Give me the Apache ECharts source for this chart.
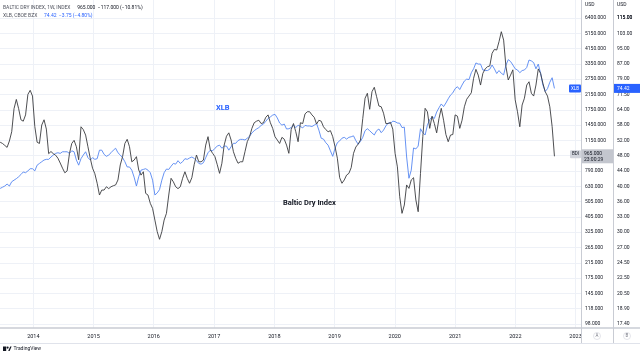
<!DOCTYPE html>
<html>
<head>
<meta charset="utf-8">
<title>Baltic Dry Index vs XLB</title>
<script src="https://cdn.jsdelivr.net/npm/echarts@6/dist/echarts.min.js"></script>
<style>
  html, body { margin: 0; padding: 0; background: #fff; }
  #chart { width: 640px; height: 354px; }
</style>
</head>
<body>
<div id="chart"></div>
<script>
// weekly closes, read every second week, starting 2013-06-14
const START = Date.UTC(2013, 5, 14);
const STEP_DAYS = 14;

const BDI = [
  1170, 1150, 1120, 1090, 1190, 1350, 1850, 2100, 1850, 1590, 1560, 1700, 2250, 2380, 2200,
  1450, 1170, 1150, 1480, 1590, 1400, 1000, 1030, 1000, 980, 940, 880, 820, 770, 790, 1000, 1150, 1200, 1100, 920, 1445, 1390, 1290, 1100, 940, 820,
  760, 667, 568, 608, 608, 636, 620, 636, 645, 652, 698, 857, 960, 1150, 1217, 1100, 895, 916, 960, 800, 746, 781, 581, 568, 507, 473,
  403, 344, 310, 344, 403, 442, 568, 714, 680, 636, 620, 636, 714, 781, 714, 667, 720, 860, 982, 895, 895, 916, 1125, 1262, 1053, 1005,
  960, 860, 764, 877, 1125, 1270, 1330, 1205, 1027, 938, 877, 895, 895, 1027, 1178, 1262, 1414, 1527, 1560, 1580, 1510, 1527, 1644, 1700, 1527, 1414,
  1262, 1205, 1150, 1250, 1220, 1125, 1005, 1390, 1510, 1350, 1178, 1527, 1510, 1723, 1775, 1775, 1700, 1644, 1500, 1580, 1560, 1445, 1390, 1350, 1370, 1262,
  1100, 940, 720, 667, 698, 746, 764, 827, 1005, 1095, 1140, 1205, 1616, 2135, 2285, 1835, 2335, 2480, 2180, 1920, 1900, 1740, 1510, 1510, 1535, 1400,
  1005, 835, 555, 442, 495, 652, 622, 698, 720, 531, 452, 764, 1262, 1860, 1775, 1414, 1670, 1510, 1330, 1616, 1860, 1580, 1300, 1178, 1290, 1300,
  1700, 1670, 1414, 1580, 1900, 2105, 2200, 2300, 2805, 3170, 2930, 2557, 3000, 3190, 3286, 3320, 3950, 4165, 4130, 4630, 5305, 4730, 3286, 2740, 2930, 3150,
  2090, 1775, 1445, 1945, 2135, 2557, 2675, 2285, 2200, 2557, 3190, 3000, 2620, 2335, 2200, 1900, 1450, 965
];

const XLB = [
  40.1, 40.4, 40.7, 41.2, 40.7, 41.8, 42.2, 42.6, 43.1, 43.7, 44.4, 44.2, 44.7, 45.3, 45.3,
  44.7, 46.3, 46.8, 47.3, 47.8, 48.0, 48.0, 48.7, 49.3, 49.8, 50.0, 49.8, 50.3, 50.3, 50.3, 49.8, 50.6, 50.3, 47.8, 46.3, 48.2, 49.3, 50.3, 48.5, 47.8, 48.5,
  48.0, 48.2, 50.8, 50.8, 49.5, 48.9, 49.3, 50.0, 50.8, 51.4, 50.0, 49.3, 48.5, 47.3, 45.8, 45.8, 44.9, 43.0, 40.7, 43.1, 44.9, 45.1, 45.3, 44.9, 44.2, 42.2,
  38.5, 39.0, 39.8, 42.2, 44.2, 45.2, 45.1, 46.0, 46.8, 46.6, 47.6, 46.8, 47.3, 48.2, 48.0, 48.4, 48.7, 48.3, 47.6, 46.8, 46.6, 47.0, 48.5, 50.0, 50.8, 50.6,
  51.4, 52.1, 52.4, 51.4, 52.1, 52.1, 50.8, 51.9, 53.0, 53.0, 53.9, 54.3, 54.3, 54.1, 54.7, 55.4, 56.5, 57.3, 57.9, 58.4, 59.2, 59.7, 60.7, 61.8, 62.4, 63.1,
  63.4, 62.0, 60.1, 59.3, 59.7, 57.9, 58.0, 58.4, 59.3, 58.4, 59.3, 58.8, 58.3, 59.2, 59.0, 59.0, 58.8, 59.3, 59.9, 57.5, 54.7, 54.4, 53.2, 52.4, 50.6, 48.9,
  51.4, 53.2, 53.8, 54.7, 55.0, 54.4, 55.0, 55.2, 55.5, 53.9, 52.7, 53.6, 55.0, 57.3, 58.0, 57.3, 56.5, 55.8, 57.3, 57.9, 56.6, 57.5, 59.0, 60.1, 59.9, 60.8,
  60.6, 60.1, 60.0, 58.4, 58.6, 48.7, 42.7, 44.9, 51.5, 51.2, 52.1, 58.0, 56.6, 55.8, 59.3, 61.4, 62.4, 61.8, 64.3, 66.0, 67.6, 66.5, 68.0, 69.8, 71.4, 72.4,
  74.3, 75.2, 73.9, 76.0, 77.9, 78.8, 78.6, 82.0, 84.0, 87.1, 86.5, 86.5, 83.4, 83.1, 83.1, 83.8, 86.0, 84.0, 81.6, 83.1, 81.7, 80.9, 85.9, 88.9, 87.9, 86.0,
  84.0, 83.4, 82.0, 83.1, 83.4, 84.7, 88.7, 88.2, 87.3, 84.0, 86.5, 81.7, 76.0, 73.0, 74.3, 77.3, 79.5, 74.42
];

const YEARS = [2014, 2015, 2016, 2017, 2018, 2019, 2020, 2021, 2022, 2023];
const BDI_TICKS = [6400, 5150, 4150, 3350, 2750, 2150, 1750, 1450, 1150, 955, 790, 630, 505, 405, 325, 265, 215, 175, 145, 118, 98];
const XLB_TICKS = [115, 103, 95, 87, 79, 71.5, 64, 58, 52, 48, 44, 40, 36, 33, 30, 27, 24.5, 22.5, 20.5, 18.9, 17.4];

// log price scales: ticks evenly spaced like the TradingView axis
const GRID_H = 328;
const TICK0_Y = 18;
const TICK_GAP = 15.3;
const BDI_PX_DECADE = 168.3;
const XLB_PX_DECADE = 372.5;

function logScale(top, pxDecade, count) {
  const t = Math.log10(top);
  const step = TICK_GAP / pxDecade;
  const ticks = [];
  // ascending order, bottom tick first
  for (let k = count - 1; k >= 0; k--) ticks.push(t - k * step);
  return {
    top: t,
    step: step,
    max: t + TICK0_Y / pxDecade,
    min: t - (GRID_H - TICK0_Y) / pxDecade,
    ticks: ticks
  };
}
const bdiScale = logScale(BDI_TICKS[0], BDI_PX_DECADE, BDI_TICKS.length);
const xlbScale = logScale(XLB_TICKS[0], XLB_PX_DECADE, XLB_TICKS.length);

const dateAt = i => START + i * STEP_DAYS * 864e5;
const bdiData = BDI.map((v, i) => [dateAt(i), Math.log10(v)]);
const xlbData = XLB.map((v, i) => [dateAt(i), Math.log10(v)]);
const yearStarts = YEARS.map(y => Date.UTC(y, 0, 1));

const FONT = 'Roboto, "Liberation Sans", sans-serif';
const TEXT = '#131722';
const GRIDC = '#eef1f7';
const BORDER = '#c9ccd4';
const BLUE = '#2962ff';

// both scales share the same gridline rows
function priceAxis(scale, labels, digits, offset) {
  return {
    type: 'value',
    position: 'right',
    offset: offset,
    min: scale.min,
    max: scale.max,
    axisLine: { show: true, lineStyle: { color: BORDER } },
    axisTick: { show: false, customValues: scale.ticks },
    axisLabel: {
      customValues: scale.ticks,
      formatter: v => labels[Math.round((scale.top - v) / scale.step)].toFixed(digits),
      fontSize: 5, color: TEXT, fontFamily: FONT, margin: 4
    },
    splitLine: { show: true, lineStyle: { color: GRIDC, width: 1 } }
  };
}

const chart = echarts.init(document.getElementById('chart'));

chart.setOption({
  animation: false,
  backgroundColor: '#ffffff',
  grid: { left: 0, right: 59, top: 0, height: GRID_H },
  xAxis: {
    type: 'value',
    min: Date.UTC(2013, 5, 13),
    max: Date.UTC(2023, 1, 3),
    axisLine: { show: true, lineStyle: { color: BORDER, width: 1.5 } },
    axisTick: { show: false, customValues: yearStarts },
    axisLabel: {
      customValues: yearStarts,
      formatter: v => String(new Date(v).getUTCFullYear()),
      fontSize: 5.5, color: TEXT, fontFamily: FONT, margin: 6
    },
    splitLine: { show: true, lineStyle: { color: GRIDC, width: 1 } }
  },
  yAxis: [
    priceAxis(bdiScale, BDI_TICKS, 3, 0),
    priceAxis(xlbScale, XLB_TICKS, 2, 32)
  ],
  series: [
    {
      name: 'XLB',
      type: 'line',
      yAxisIndex: 1,
      data: xlbData,
      showSymbol: false,
      lineStyle: { color: '#5687f2', width: 0.9 },
      z: 2
    },
    {
      name: 'Baltic Dry Index',
      type: 'line',
      yAxisIndex: 0,
      data: bdiData,
      showSymbol: false,
      lineStyle: { color: '#3a3b3e', width: 0.9 },
      z: 3
    }
  ]
});

// price tags, legend and frame
const yX = chart.convertToPixel({ yAxisIndex: 1 }, Math.log10(XLB[XLB.length - 1]));
const yB = chart.convertToPixel({ yAxisIndex: 0 }, Math.log10(BDI[BDI.length - 1]));
// the top XLB label gets dropped by the axis layout, so it is put back by hand
const yTop = chart.convertToPixel({ yAxisIndex: 1 }, xlbScale.top);

const overlay = [
  {
    type: 'text', left: 3, top: 2,
    style: {
      text: '{g|BALTIC DRY INDEX, 1W, INDEX}  {k|965.000  \u2212117.000 (\u221210.81%)}',
      rich: {
        g: { fontSize: 5, fill: '#50535e', fontFamily: FONT },
        k: { fontSize: 5, fill: TEXT, fontFamily: FONT }
      }
    }
  },
  {
    type: 'text', left: 3, top: 10,
    style: {
      text: '{g|XLB, CBOE BZX}  {b|74.42  \u22123.75 (\u22124.80%)}',
      rich: {
        g: { fontSize: 5, fill: '#50535e', fontFamily: FONT },
        b: { fontSize: 5, fill: BLUE, fontFamily: FONT }
      }
    }
  },
  { type: 'text', left: 585, top: 2, style: { text: 'USD', fontSize: 5, fill: TEXT, fontFamily: FONT } },
  { type: 'text', left: 617, top: 2, style: { text: 'USD', fontSize: 5, fill: TEXT, fontFamily: FONT } },
  { type: 'text', x: 617, y: yTop, style: { text: XLB_TICKS[0].toFixed(2), fontSize: 5, fill: TEXT, verticalAlign: 'middle', fontFamily: FONT } },

  { type: 'text', left: 216, top: 104, style: { text: 'XLB', fontSize: 7.5, fontWeight: 'bold', fill: BLUE, fontFamily: FONT } },
  { type: 'text', left: 283, top: 199, style: { text: 'Baltic Dry Index', fontSize: 7.5, fontWeight: 'bold', fill: TEXT, fontFamily: FONT } },

  // tags at the last values
  { type: 'rect', shape: { x: 569, y: yX - 4, width: 12, height: 8, r: 1 }, style: { fill: BLUE } },
  { type: 'text', x: 575, y: yX, style: { text: 'XLB', fontSize: 4.5, fill: '#fff', align: 'center', verticalAlign: 'middle', fontFamily: FONT } },
  { type: 'rect', shape: { x: 614, y: yX - 4.5, width: 26, height: 9 }, style: { fill: BLUE } },
  { type: 'text', x: 617, y: yX, style: { text: '74.42', fontSize: 5, fill: '#fff', verticalAlign: 'middle', fontFamily: FONT } },

  { type: 'rect', shape: { x: 570, y: yB - 6, width: 11, height: 8, r: 1 }, style: { fill: '#d1d4dc' } },
  { type: 'text', x: 575.5, y: yB - 2, style: { text: 'BDI', fontSize: 4.5, fill: TEXT, align: 'center', verticalAlign: 'middle', fontFamily: FONT } },
  { type: 'rect', shape: { x: 582, y: yB - 7, width: 31, height: 14 }, style: { fill: '#c3c6ce' } },
  { type: 'text', x: 584, y: yB - 3, style: { text: '965.000', fontSize: 5, fill: TEXT, verticalAlign: 'middle', fontFamily: FONT } },
  { type: 'text', x: 584, y: yB + 3, style: { text: '23:00:29', fontSize: 5, fill: TEXT, verticalAlign: 'middle', fontFamily: FONT } },

  // frame of the axis area
  { type: 'line', shape: { x1: 581, y1: GRID_H, x2: 640, y2: GRID_H }, style: { stroke: BORDER, lineWidth: 1.5 } },
  { type: 'line', shape: { x1: 581.5, y1: GRID_H, x2: 581.5, y2: 343 }, style: { stroke: BORDER, lineWidth: 1 } },
  { type: 'line', shape: { x1: 613.5, y1: GRID_H, x2: 613.5, y2: 343 }, style: { stroke: BORDER, lineWidth: 1 } },
  { type: 'line', shape: { x1: 0, y1: 343.5, x2: 640, y2: 343.5 }, style: { stroke: '#e0e3eb', lineWidth: 1 } },
  { type: 'circle', shape: { cx: 597, cy: 336, r: 3.5 }, style: { fill: '#fff', stroke: '#d1d4dc', lineWidth: 0.6 } },
  { type: 'text', x: 597, y: 336, style: { text: 'A', fontSize: 4.5, fill: '#787b86', align: 'center', verticalAlign: 'middle', fontFamily: FONT } },
  { type: 'circle', shape: { cx: 627, cy: 336, r: 3.5 }, style: { fill: '#fff', stroke: '#d1d4dc', lineWidth: 0.6 } },
  { type: 'text', x: 627, y: 336, style: { text: 'B', fontSize: 4.5, fill: '#787b86', align: 'center', verticalAlign: 'middle', fontFamily: FONT } },

  // TradingView mark
  { type: 'rect', shape: { x: 3, y: 346.5, width: 3.2, height: 4.5 }, style: { fill: TEXT } },
  { type: 'circle', shape: { cx: 7.6, cy: 347.6, r: 1.1 }, style: { fill: TEXT } },
  { type: 'polygon', shape: { points: [[8.2, 351], [10.2, 346.5], [11.6, 346.5], [9.6, 351]] }, style: { fill: TEXT } },
  { type: 'text', left: 13.5, top: 346, style: { text: 'TradingView', fontSize: 5, fill: TEXT, fontFamily: FONT } }
];

chart.setOption({ graphic: overlay.map(g => Object.assign({ z: 100 }, g)) });
</script>
</body>
</html>
